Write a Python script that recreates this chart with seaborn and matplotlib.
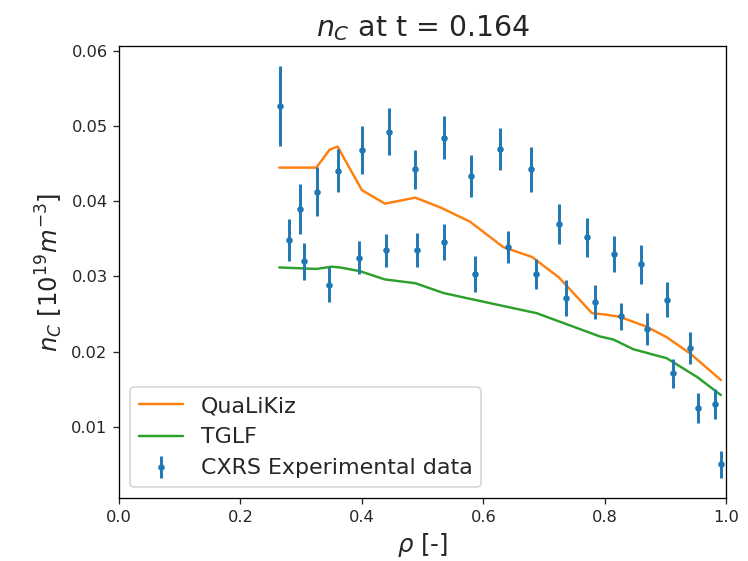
import matplotlib
matplotlib.use("Agg")
import matplotlib.pyplot as plt
import seaborn as sns
import numpy as np
import pandas as pd

sns.set_style("ticks")
plt.rcParams['font.family'] = ['DejaVu Sans']

# Experimental CXRS data
exp_rho = [0.265, 0.280, 0.298, 0.304, 0.326, 0.346, 0.360, 0.395, 0.401, 0.439,
           0.444, 0.487, 0.490, 0.536, 0.536, 0.579, 0.587, 0.627, 0.641, 0.678,
           0.686, 0.724, 0.736, 0.771, 0.783, 0.815, 0.827, 0.860, 0.870, 0.902,
           0.912, 0.940, 0.954, 0.981, 0.991]
exp_nc = [0.0527, 0.0348, 0.0390, 0.0320, 0.0413, 0.0289, 0.0441, 0.0325, 0.0469, 0.0335,
          0.0493, 0.0443, 0.0335, 0.0485, 0.0346, 0.0434, 0.0303, 0.0470, 0.0339, 0.0443,
          0.0303, 0.0370, 0.0271, 0.0352, 0.0266, 0.0330, 0.0247, 0.0316, 0.0230, 0.0269,
          0.0171, 0.0205, 0.0125, 0.0130, 0.0050]
exp_err = [0.0053, 0.0028, 0.0033, 0.0025, 0.0033, 0.0023, 0.0029, 0.0022, 0.0032, 0.0022,
           0.0031, 0.0026, 0.0023, 0.0029, 0.0024, 0.0028, 0.0024, 0.0028, 0.0021, 0.0030,
           0.0020, 0.0027, 0.0024, 0.0026, 0.0023, 0.0024, 0.0018, 0.0026, 0.0021, 0.0023,
           0.0019, 0.0021, 0.0020, 0.0020, 0.0018]

# QuaLiKiz simulation
qlk_rho = [0.264, 0.325, 0.347, 0.360, 0.400, 0.438, 0.488, 0.529, 0.578, 0.633,
           0.680, 0.724, 0.779, 0.803, 0.825, 0.869, 0.902, 0.941, 0.991]
qlk_nc = [0.0445, 0.0445, 0.0469, 0.0473, 0.0415, 0.0397, 0.0405, 0.0392, 0.0373, 0.0339,
          0.0326, 0.0299, 0.0251, 0.0249, 0.0246, 0.0233, 0.0219, 0.0197, 0.0162]

# TGLF simulation
tglf_rho = [0.264, 0.325, 0.350, 0.364, 0.397, 0.438, 0.488, 0.534, 0.562, 0.688,
            0.792, 0.814, 0.847, 0.902, 0.952, 0.991]
tglf_nc = [0.0312, 0.0310, 0.0313, 0.0312, 0.0307, 0.0296, 0.0291, 0.0278, 0.0273, 0.0251,
           0.0220, 0.0216, 0.0203, 0.0191, 0.0166, 0.0142]

fig = plt.figure(figsize=(6.4, 4.8), dpi=116.875)
ax = fig.add_axes([0.159, 0.112, 0.812, 0.8065])

sns.lineplot(x=qlk_rho, y=qlk_nc, ax=ax, color='#ff7f0e', label='QuaLiKiz',
             estimator=None, sort=False, linewidth=1.5)
sns.lineplot(x=tglf_rho, y=tglf_nc, ax=ax, color='#2ca02c', label='TGLF',
             estimator=None, sort=False, linewidth=1.5)
ax.errorbar(exp_rho, exp_nc, yerr=exp_err, fmt='.', color='#1f77b4',
            elinewidth=1.8, label='CXRS Experimental data')

ax.set_xlim(0.0, 1.0)
ax.set_title(r'$n_C$ at t = 0.164', fontsize=17.5)
ax.set_xlabel(r'$\rho$ [-]', fontsize=15)
ax.set_ylabel(r'$n_C\ [10^{19} m^{-3}]$', fontsize=15)
ax.tick_params(labelsize=10)
for s in ax.spines.values():
    s.set_visible(True)
    s.set_color('black')
    s.set_linewidth(0.8)

ax.legend(loc='lower left', fontsize=13.6)

fig.savefig('out.png', dpi=116.875)
